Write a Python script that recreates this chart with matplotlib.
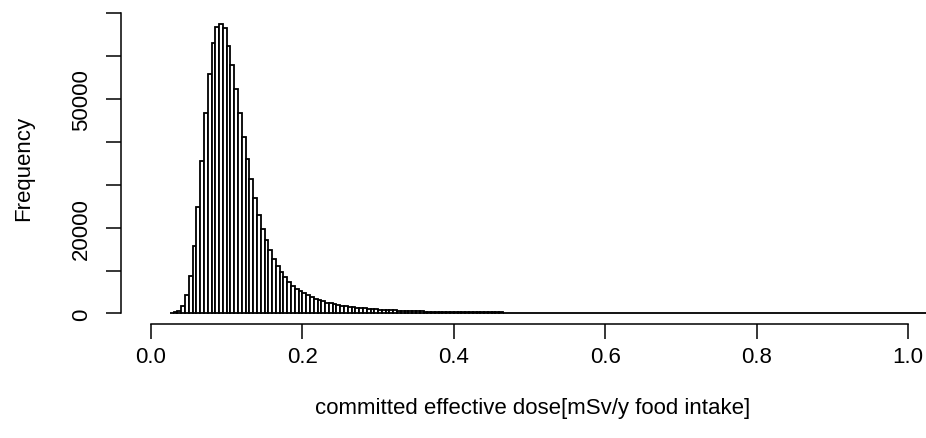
import matplotlib
matplotlib.use("Agg")
import matplotlib.pyplot as plt
import numpy as np
from matplotlib.ticker import FixedLocator, FixedFormatter

plt.rcParams["font.family"] = ["Liberation Sans", "DejaVu Sans"]

# Histogram of committed effective dose, bins of 0.005 mSv/y starting at 0.025
bin_start = 0.025
bin_width = 0.005
counts = [
    100, 250, 650, 1800, 4300, 8700, 15700, 24900, 35600, 46700,          # 0.025-0.07
    55900, 63000, 66800, 67500, 66600, 62300, 57800, 52400, 46800, 41100,  # 0.075-0.12
    36000, 31400, 26900, 23000, 19700, 17100, 14700, 12700, 11000, 9600,   # 0.125-0.17
    8400, 7400, 6500, 5800, 5200, 4700, 4200, 3800, 3400, 3100,            # 0.175-0.22
    2800, 2550, 2350, 2150, 2000, 1850, 1700, 1600, 1480, 1380,            # 0.225-0.27
    1290, 1200, 1120, 1050, 980, 920, 860, 810, 760, 710,                  # 0.275-0.32
    670, 630, 590, 560, 530, 500, 470, 445, 420, 400,                      # 0.325-0.37
    385, 370, 355, 345, 335,                                               # 0.375-0.395
    330, 320, 310, 300, 292, 284, 276, 268, 261, 254,                      # 0.40
    248, 242, 236, 230, 225, 220, 215, 210, 206, 202,                      # 0.45
    198, 194, 190, 187, 184, 181, 178, 175, 172, 170,                      # 0.50
    167, 165, 162, 160, 158, 156, 154, 152, 150, 148,                      # 0.55
    146, 144, 142, 141, 139, 137, 136, 134, 133, 131,                      # 0.60
    130, 128, 127, 126, 124, 123, 122, 121, 120, 118,                      # 0.65
    117, 116, 115, 114, 113, 112, 111, 110, 109, 108,                      # 0.70
    107, 106, 105, 104, 104, 103, 102, 101, 100, 100,                      # 0.75
    99, 98, 97, 97, 96, 95, 95, 94, 93, 93,                                # 0.80
    92, 91, 91, 90, 90, 89, 88, 88, 87, 87,                                # 0.85
    86, 86, 85, 85, 84, 84, 83, 83, 82, 82,                                # 0.90
    81, 81, 80, 80, 80, 79, 79, 78, 78, 78,                                # 0.95
    77, 77, 76, 76, 76, 75, 75, 75, 74, 74,                                # 1.00
]

x_ticks = [0.0, 0.2, 0.4, 0.6, 0.8, 1.0]
x_tick_labels = ["0.0", "0.2", "0.4", "0.6", "0.8", "1.0"]
y_ticks = [0, 10000, 20000, 30000, 40000, 50000, 60000, 70000]
y_tick_labels = ["0", "", "20000", "", "", "50000", "", ""]

x_label = "committed effective dose[mSv/y food intake]"
y_label = "Frequency"

W, H = 926, 439
fig = plt.figure(figsize=(W / 100, H / 100), dpi=100)

# plot region in pixels: left 121, right 926, top 14, bottom 325
ax = fig.add_axes([121 / W, 1 - 325 / H, (926 - 121) / W, (325 - 14) / H])

edges = bin_start + bin_width * np.arange(len(counts))
ax.bar(edges, counts, width=bin_width, align="edge",
       facecolor="white", edgecolor="black", linewidth=1.3)

ax.set_xlim(-30 / 757, 775 / 757)
ax.set_ylim(-2446, 70000)

for side in ("top", "right"):
    ax.spines[side].set_visible(False)
ax.spines["left"].set_bounds(0, 70000)
ax.spines["bottom"].set_bounds(0, 1.0)
for side in ("left", "bottom"):
    ax.spines[side].set_linewidth(1.1)

ax.xaxis.set_major_locator(FixedLocator(x_ticks))
ax.xaxis.set_major_formatter(FixedFormatter(x_tick_labels))
ax.yaxis.set_major_locator(FixedLocator(y_ticks))
ax.yaxis.set_major_formatter(FixedFormatter(y_tick_labels))

ax.tick_params(axis="both", direction="out", length=10.8, width=1.1,
               labelsize=16, colors="black")
ax.tick_params(axis="x", pad=5)
ax.tick_params(axis="y", pad=10)
for label in ax.get_yticklabels():
    label.set_rotation(90)
    label.set_va("center")

ax.set_xlabel(x_label, fontsize=16)
ax.xaxis.set_label_coords((533 - 121) / 805, -(398 - 325) / 311)
ax.set_ylabel(y_label, fontsize=16, va="center")
ax.yaxis.set_label_coords(-(121 - 24) / 805, (325 - 168) / 311)

fig.savefig("out.png", dpi=100)
